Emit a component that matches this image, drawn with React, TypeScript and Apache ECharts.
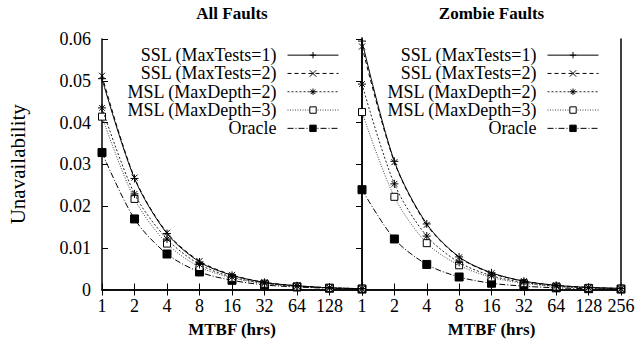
import React, { useEffect, useRef } from 'react';
import * as echarts from 'echarts';

const mtbf = ['1', '2', '4', '8', '16', '32', '64', '128', '256'];
const seriesNames = ['SSL (MaxTests=1)', 'SSL (MaxTests=2)', 'MSL (MaxDepth=2)', 'MSL (MaxDepth=3)', 'Oracle'];

// All Faults panel
const allSSL1 = [0.0505, 0.0266, 0.0134, 0.0066, 0.0034, 0.0017, 0.0009, 0.0004, 0.0002];
const allSSL2 = [0.0512, 0.0268, 0.0136, 0.0068, 0.0035, 0.0017, 0.0009, 0.0004, 0.0002];
const allMSL2 = [0.0435, 0.0229, 0.0121, 0.006, 0.003, 0.0015, 0.0008, 0.0004, 0.0002];
const allMSL3 = [0.0414, 0.0217, 0.011, 0.0054, 0.0028, 0.0014, 0.0007, 0.0004, 0.0002];
const allOracle = [0.0328, 0.0169, 0.0085, 0.0042, 0.0022, 0.0011, 0.0006, 0.0003, 0.0001];

// Zombie Faults panel
const zombieSSL1 = [0.0595, 0.0307, 0.0157, 0.0078, 0.004, 0.002, 0.001, 0.0005, 0.0003];
const zombieSSL2 = [0.0582, 0.0305, 0.0155, 0.0077, 0.0039, 0.002, 0.001, 0.0005, 0.0002];
const zombieMSL2 = [0.0492, 0.0253, 0.0128, 0.0065, 0.0033, 0.0017, 0.0008, 0.0004, 0.0002];
const zombieMSL3 = [0.0425, 0.0222, 0.0111, 0.0058, 0.0029, 0.0015, 0.0007, 0.0004, 0.0002];
const zombieOracle = [0.0239, 0.0121, 0.006, 0.003, 0.0015, 0.0008, 0.0004, 0.0002, 0.0001];

const yTicks = { min: 0, max: 0.06, interval: 0.01 };

const FONT = '"Liberation Serif", "Times New Roman", serif';
const PLUS = 'path://M0,5L10,5M5,0L5,10';
const CROSS = 'path://M0,0L10,10M10,0L0,10';
const STAR = 'path://M0,5L10,5M5,0L5,10M1.5,1.5L8.5,8.5M8.5,1.5L1.5,8.5';

const styles = [
  { symbol: PLUS, size: 8, dash: 'solid' as any, line: '#000', fill: '#000' },
  { symbol: CROSS, size: 6, dash: [4, 3], line: '#000', fill: '#000' },
  { symbol: STAR, size: 8, dash: [2, 2], line: '#222', fill: '#000' },
  { symbol: 'rect', size: 7, dash: [1, 1.5], line: '#444', fill: '#fff' },
  { symbol: 'rect', size: 8, dash: [6, 2, 1, 2], line: '#000', fill: '#000' },
];

export default function App() {
  const ref = useRef<HTMLDivElement>(null);
  useEffect(() => {
    if (!ref.current) return;
    const chart = echarts.init(ref.current, null, { renderer: 'svg' });
    const panels = [
      [allSSL1, allSSL2, allMSL2, allMSL3, allOracle],
      [zombieSSL1, zombieSSL2, zombieMSL2, zombieMSL3, zombieOracle],
    ];
    const series: any[] = [];
    panels.forEach((panel, p) => {
      panel.forEach((data, i) => {
        const s = styles[i];
        series.push({
          type: 'line',
          name: seriesNames[i],
          xAxisIndex: p * 2,
          yAxisIndex: p * 2,
          data,
          smooth: 0.3,
          showAllSymbol: true,
          symbol: s.symbol,
          symbolSize: s.size,
          lineStyle: { color: s.line, width: 1, type: s.dash },
          itemStyle: { color: s.fill, borderColor: '#000', borderWidth: 1 },
          z: 10 - i,
        });
      });
    });

    const axisLine = { show: true, lineStyle: { color: '#000', width: 1.5 } };
    const tick = { show: true, inside: true, length: 6, lineStyle: { color: '#000', width: 1 } };
    const label = { fontSize: 18, fontFamily: FONT, color: '#000' };
    const nameStyle = { fontSize: 17, fontFamily: FONT, fontWeight: 'bold', color: '#000' };
    const grids = [
      { left: 102, top: 37, width: 260, height: 252.5 },
      { left: 362, top: 37, width: 259, height: 252.5 },
    ];
    const titles = ['All Faults', 'Zombie Faults'];
    const xAxis: any[] = [];
    const yAxis: any[] = [];
    [0, 1].forEach((g) => {
      xAxis.push({
        gridIndex: g,
        type: 'category',
        data: mtbf,
        boundaryGap: false,
        position: 'bottom',
        axisLine,
        axisTick: { ...tick, interval: 0 },
        axisLabel: {
          ...label,
          interval: 0,
          margin: 7,
          hideOverlap: false,
          formatter: (v: string, idx: number) => (g === 0 && idx === mtbf.length - 1 ? '' : v),
        },
        splitLine: { show: false },
        name: 'MTBF (hrs)',
        nameLocation: 'middle',
        nameGap: 31,
        nameTextStyle: nameStyle,
      });
      xAxis.push({
        gridIndex: g,
        type: 'category',
        data: mtbf,
        boundaryGap: false,
        position: 'top',
        axisLine,
        axisTick: { ...tick, interval: 0 },
        axisLabel: { show: false },
        splitLine: { show: false },
        name: titles[g],
        nameLocation: 'middle',
        nameGap: 17,
        nameTextStyle: nameStyle,
      });
      yAxis.push({
        gridIndex: g,
        type: 'value',
        ...yTicks,
        position: 'left',
        axisLine,
        axisTick: g === 0 ? tick : { show: false },
        axisLabel: g === 0 ? { ...label, margin: 11 } : { show: false },
        splitLine: { show: false },
        name: g === 0 ? 'Unavailability' : '',
        nameLocation: 'middle',
        nameGap: 74,
        nameRotate: 90,
        nameTextStyle: { fontSize: 21, fontFamily: FONT, color: '#000' },
      });
      yAxis.push({
        gridIndex: g,
        type: 'value',
        ...yTicks,
        position: 'right',
        axisLine,
        axisTick: g === 0 ? tick : { show: false },
        axisLabel: { show: false },
        splitLine: { show: false },
      });
    });

    const legendBase = {
      orient: 'vertical',
      align: 'right',
      top: 46,
      itemWidth: 51,
      itemHeight: 8,
      itemGap: 0,
      padding: 0,
      selectedMode: false,
      data: seriesNames,
      lineStyle: { width: 1 },
      itemStyle: { borderWidth: 1 },
      textStyle: { fontSize: 18, fontFamily: FONT, color: '#000', lineHeight: 18.3, padding: [0, 6, 0, 0] },
    };

    chart.setOption({
      animation: false,
      backgroundColor: '#fff',
      textStyle: { fontFamily: FONT },
      grid: grids,
      xAxis,
      yAxis,
      legend: [
        { ...legendBase, right: 300 },
        { ...legendBase, right: 40 },
      ],
      series,
    });
    return () => chart.dispose();
  }, []);
  return <div ref={ref} style={{ position: 'fixed', left: 0, top: 0, width: 639, height: 351 }} />;
}
